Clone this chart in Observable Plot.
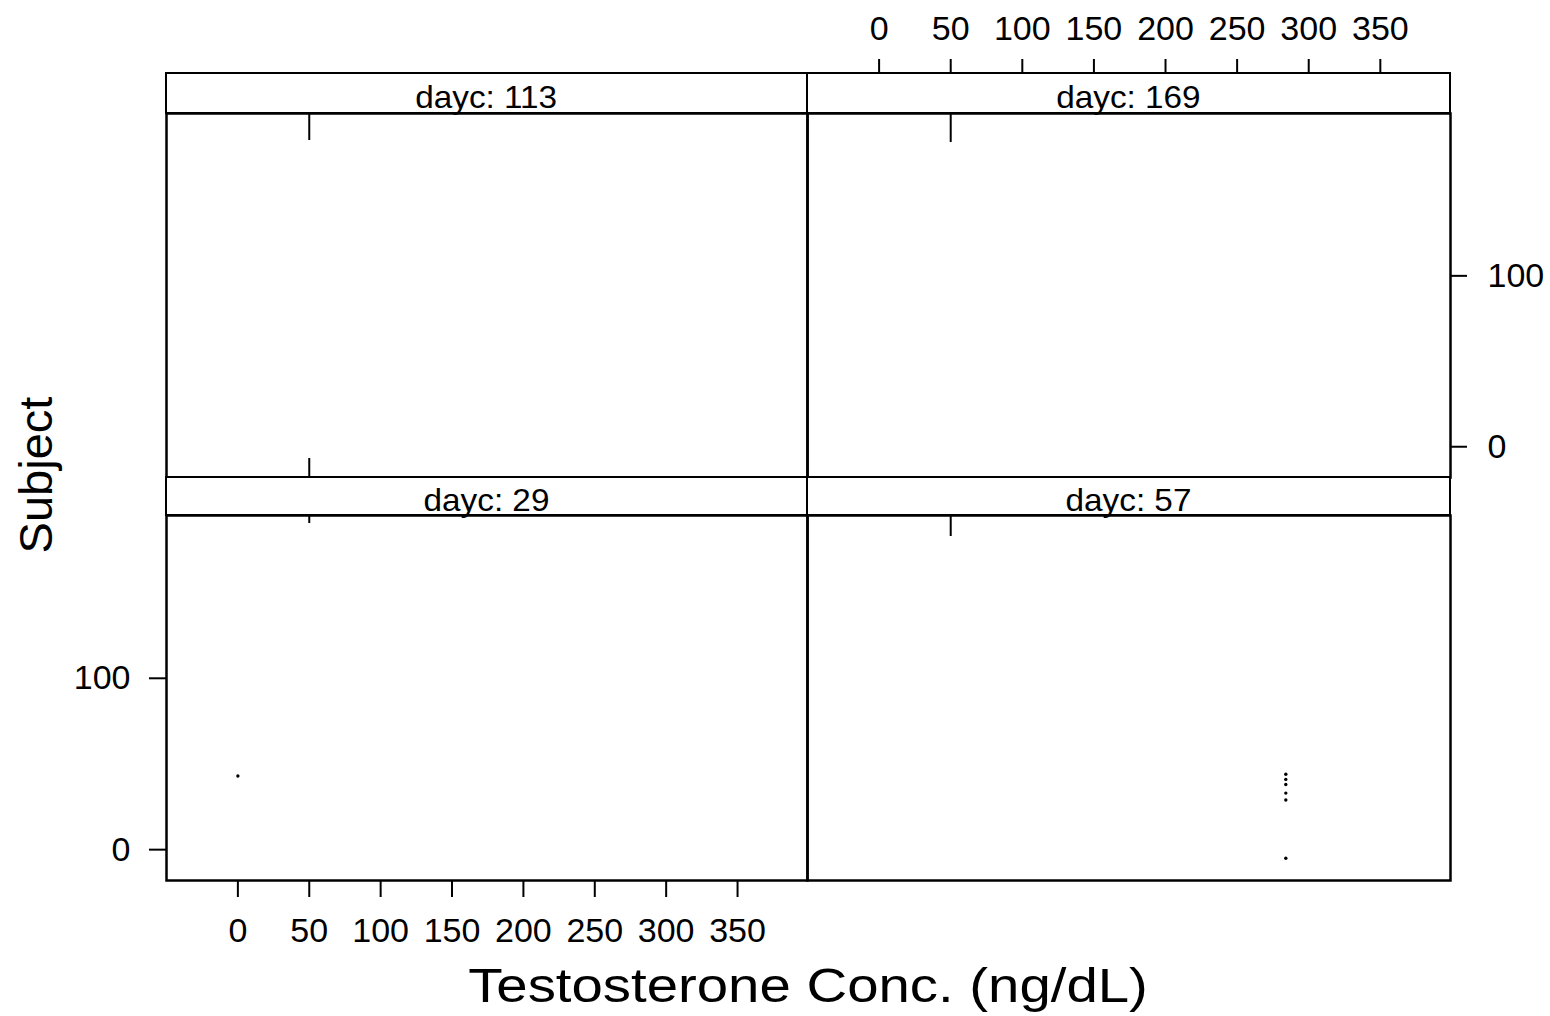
<!DOCTYPE html>
<html>
<head>
<meta charset="utf-8">
<script src="https://cdn.jsdelivr.net/npm/d3@7"></script>
<script src="https://cdn.jsdelivr.net/npm/@observablehq/plot@0.6"></script>
<style>
  body { margin: 0; background: #fff; }
  #chart { position: relative; width: 1550px; height: 1016px; font-family: "Liberation Sans", Arial, sans-serif; color: #000; overflow: hidden; }
  #chart svg { position: absolute; left: 0; top: 0; overflow: visible; }
  .strip { position: absolute; box-sizing: border-box; border: 2.5px solid #000; background: #fff;
           display: flex; align-items: center; justify-content: center; font-size: 32px; z-index: 2;
           padding-top: 7px; line-height: 1; }
  .strip span { display: inline-block; transform: scaleX(1.04); }
  .xtitle { position: absolute; left: 0; width: 1616px; top: 957px; text-align: center; font-size: 49px;
            transform: scaleX(1.15); transform-origin: 808px 0; white-space: nowrap; }
  .ytitle { position: absolute; left: 35px; top: 475px; font-size: 47px; white-space: nowrap;
            transform: translate(-50%, -50%) rotate(-90deg); }
</style>
</head>
<body>
<div id="chart"></div>
<script>
// Panels (conditioning variable dayc), in lattice order
const dayc = [113, 169, 29, 57];
const stripPrefix = "dayc: ";

// Axis ticks
const xTicks = [0, 50, 100, 150, 200, 250, 300, 350];
const yTicks = [0, 100];
const xDomain = [-50, 399];
const yDomain = [-18, 195];

// Reference concentration (ng/dL)
const refConc = 50;

// Remaining observations: panel, concentration, subject
const obsDayc = [57, 57, 57, 57, 57, 57, 29];
const obsConc = [284, 284, 284, 284, 284, 284, 0];
const obsSubject = [44, 41, 38, 33, 29, -5, 43];

const W = 1550, H = 1016;
const font = "'Liberation Sans', Arial, sans-serif";

// Panel boxes on the page and which axes each panel carries
const layout = {
  113: {x0: 166, x1: 807, stripTop: 73, top: 113, bottom: 477, axes: [], dash: "27 318 18 400"},
  169: {x0: 807, x1: 1450, stripTop: 73, top: 113, bottom: 477, axes: ["top", "right"], dash: "29 400"},
  29:  {x0: 166, x1: 807, stripTop: 477, top: 515, bottom: 880, axes: ["bottom", "left"], dash: "8 400"},
  57:  {x0: 807, x1: 1450, stripTop: 477, top: 515, bottom: 880, axes: [], dash: "21 400"}
};

const obs = obsDayc.map((d, i) => ({dayc: d, conc: obsConc[i], subject: obsSubject[i]}));
const chart = document.getElementById("chart");

for (const d of dayc) {
  const L = layout[d];
  const stripH = L.top - L.stripTop;
  const marks = [
    Plot.ruleX([refConc], {stroke: "#000", strokeWidth: 2, strokeDasharray: L.dash}),
    Plot.dot(obs.filter(o => o.dayc === d), {x: "conc", y: "subject", r: 1.7, fill: "#000", stroke: "none"}),
    Plot.frame({stroke: "#000", strokeWidth: 2.5})
  ];
  if (L.axes.includes("top")) {
    marks.push(Plot.axisX(xTicks, {anchor: "top", dy: -stripH, tickSize: 15, tickPadding: 19,
      fontSize: 34, strokeWidth: 2, label: null}));
  }
  if (L.axes.includes("bottom")) {
    marks.push(Plot.axisX(xTicks, {anchor: "bottom", tickSize: 17, tickPadding: 20,
      fontSize: 34, strokeWidth: 2, label: null}));
  }
  if (L.axes.includes("right")) {
    marks.push(Plot.axisY(yTicks, {anchor: "right", tickSize: 16, tickPadding: 21,
      fontSize: 34, strokeWidth: 2, label: null}));
  }
  if (L.axes.includes("left")) {
    marks.push(Plot.axisY(yTicks, {anchor: "left", tickSize: 17, tickPadding: 19,
      fontSize: 34, strokeWidth: 2, label: null}));
  }
  const hasX = L.axes.includes("top") || L.axes.includes("bottom");
  const hasY = L.axes.includes("left") || L.axes.includes("right");
  const svg = Plot.plot({
    width: W, height: H,
    marginLeft: L.x0, marginRight: W - L.x1,
    marginTop: L.top, marginBottom: H - L.bottom,
    x: hasX ? {domain: xDomain} : {domain: xDomain, axis: null},
    y: hasY ? {domain: yDomain} : {domain: yDomain, axis: null},
    style: {fontFamily: font, background: "transparent", color: "#000", overflow: "visible"},
    marks
  });
  chart.appendChild(svg);

  const strip = document.createElement("div");
  strip.className = "strip";
  strip.style.left = (L.x0 - 1) + "px";
  strip.style.top = (L.stripTop - 1) + "px";
  strip.style.width = (L.x1 - L.x0 + 2) + "px";
  strip.style.height = (stripH + 2) + "px";
  const label = document.createElement("span");
  label.textContent = stripPrefix + d;
  strip.appendChild(label);
  chart.appendChild(strip);
}

const xt = document.createElement("div");
xt.className = "xtitle";
xt.textContent = "Testosterone Conc. (ng/dL)";
chart.appendChild(xt);

const yt = document.createElement("div");
yt.className = "ytitle";
yt.textContent = "Subject";
chart.appendChild(yt);
</script>
</body>
</html>
